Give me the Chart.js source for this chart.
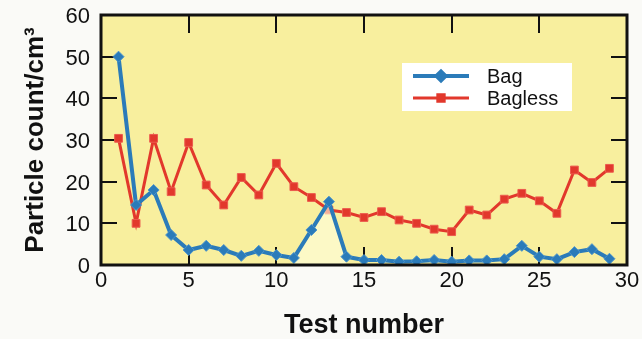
<!DOCTYPE html>
<html>
<head>
<meta charset="utf-8">
<script src="https://cdn.jsdelivr.net/npm/chart.js@4"></script>
<style>
  body { margin: 0; background: #fafaf7; }
  #wrap { width: 642px; height: 339px; }
</style>
</head>
<body>
<div id="wrap"><canvas id="grafico" width="642" height="339"></canvas></div>
<script>
// valores
const testes = [1,2,3,4,5,6,7,8,9,10,11,12,13,14,15,16,17,18,19,20,21,22,23,24,25,26,27,28,29];
const bag = [50,14.4,18,7.2,3.6,4.6,3.6,2.2,3.4,2.4,1.7,8.4,15.2,2,1.2,1.2,0.8,0.9,1.2,0.8,1.1,1.1,1.4,4.6,2,1.4,3.1,3.8,1.5];
const bagless = [30.4,10,30.4,17.6,29.4,19.2,14.4,21,16.8,24.4,18.8,16.2,13.2,12.6,11.4,12.8,10.8,10,8.6,8,13.2,12,15.8,17.2,15.4,12.4,22.8,19.8,23.2];
const xTicks = [0,5,10,15,20,25,30];
const yTicks = [0,10,20,30,40,50,60];

const AZUL = '#2b7bb9';
const VERMELHO = '#e2382c';
const AMARELO = '#f8ef9e';
const FONTE = '"Liberation Sans", Arial, sans-serif';

const toPts = (ys) => ys.map((v, i) => ({x: testes[i], y: v}));

// fundo amarelo + moldura com ticks para dentro
const moldura = {
    id: 'moldura',
    beforeDraw(chart) {
        const {ctx, chartArea: a} = chart;
        ctx.save();
        ctx.fillStyle = AMARELO;
        ctx.fillRect(a.left, a.top, a.right - a.left, a.bottom - a.top);
        ctx.restore();
    },
    beforeDatasetsDraw(chart) {
        const {ctx, chartArea: a, scales} = chart;
        ctx.save();
        ctx.strokeStyle = '#111';
        ctx.lineWidth = 2;
        ctx.beginPath();
        xTicks.slice(1, -1).forEach(v => {
            const px = Math.round(scales.x.getPixelForValue(v));
            ctx.moveTo(px, a.top); ctx.lineTo(px, a.top + 18);
            ctx.moveTo(px, a.bottom); ctx.lineTo(px, a.bottom - 18);
        });
        yTicks.slice(1, -1).forEach(v => {
            const py = Math.round(scales.y.getPixelForValue(v));
            ctx.moveTo(a.left, py); ctx.lineTo(a.left + 16, py);
            ctx.moveTo(a.right, py); ctx.lineTo(a.right - 16, py);
        });
        ctx.stroke();
        ctx.restore();
    },
    afterDraw(chart) {
        const {ctx, chartArea: a} = chart;
        ctx.save();
        ctx.strokeStyle = '#111';
        ctx.lineWidth = 3;
        ctx.strokeRect(a.left, a.top, a.right - a.left, a.bottom - a.top);

        // legenda com linha + marcador
        const lx = 402, ly = 63, lw = 170, lh = 48;
        ctx.fillStyle = '#ffffff';
        ctx.fillRect(lx, ly, lw, lh);
        const itens = [
            {txt: 'Bag', cor: AZUL, forma: 'rectRot', y: ly + 13, lw: 4},
            {txt: 'Bagless', cor: VERMELHO, forma: 'rect', y: ly + 35, lw: 3}
        ];
        itens.forEach(it => {
            ctx.strokeStyle = it.cor;
            ctx.lineWidth = it.lw;
            ctx.beginPath();
            ctx.moveTo(lx + 11, it.y); ctx.lineTo(lx + 67, it.y);
            ctx.stroke();
            ctx.fillStyle = it.cor;
            Chart.helpers.drawPoint(ctx, {pointStyle: it.forma, radius: 4.5, borderWidth: 1}, lx + 39, it.y);
            ctx.fillStyle = '#111';
            ctx.font = '20px ' + FONTE;
            ctx.textBaseline = 'middle';
            ctx.fillText(it.txt, lx + 85, it.y + 1);
        });
        ctx.restore();
    }
};

new Chart(document.querySelector('#grafico'), {
    type: 'line',
    data: {
        datasets: [
            {
                label: 'Bag',
                data: toPts(bag),
                borderColor: AZUL,
                backgroundColor: AZUL,
                borderWidth: 4,
                pointStyle: 'rectRot',
                pointRadius: 5.5,
                pointBorderColor: '#4b94cc',
                pointBorderWidth: 1,
                tension: 0,
                fill: 'origin',
                segment: {
                    // area clara sob o pico
                    backgroundColor: c => (c.p0DataIndex >= 10 && c.p1DataIndex <= 13) ? 'rgba(255,255,225,0.6)' : 'rgba(0,0,0,0)'
                }
            },
            {
                label: 'Bagless',
                data: toPts(bagless),
                borderColor: VERMELHO,
                backgroundColor: VERMELHO,
                borderWidth: 3,
                pointStyle: 'rect',
                pointRadius: 5.5,
                pointBorderColor: '#ec5a4e',
                pointBorderWidth: 1,
                tension: 0,
                fill: false
            }
        ]
    },
    options: {
        responsive: false,
        animation: false,
        layout: { padding: { top: 15, right: 15, left: 0, bottom: 0 } },
        plugins: {
            legend: { display: false },
            tooltip: { enabled: false }
        },
        scales: {
            x: {
                type: 'linear',
                min: 0,
                max: 30,
                afterFit: s => { s.height = 74; s.paddingRight = 0; s.paddingLeft = 0; },
                afterBuildTicks: s => { s.ticks = xTicks.map(v => ({value: v})); },
                grid: { display: false, drawTicks: false },
                border: { display: false },
                ticks: { color: '#111', padding: 3, font: { family: FONTE, size: 22 } },
                title: {
                    display: true,
                    text: 'Test number',
                    color: '#111',
                    padding: { top: 6, bottom: 0 },
                    font: { family: FONTE, size: 27, weight: 'bold', lineHeight: 1 }
                }
            },
            y: {
                min: 0,
                max: 60,
                afterFit: s => { s.width = 101; s.paddingTop = 0; s.paddingBottom = 0; },
                afterBuildTicks: s => { s.ticks = yTicks.map(v => ({value: v})); },
                grid: { display: false, drawTicks: false },
                border: { display: false },
                ticks: { color: '#111', padding: 11, labelOffset: 2, font: { family: FONTE, size: 22 } },
                title: {
                    display: true,
                    text: 'Particle count/cm³',
                    color: '#111',
                    padding: { top: 23, bottom: 0 },
                    font: { family: FONTE, size: 26, weight: 'bold', lineHeight: 1 }
                }
            }
        }
    },
    plugins: [moldura]
});
</script>
</body>
</html>
